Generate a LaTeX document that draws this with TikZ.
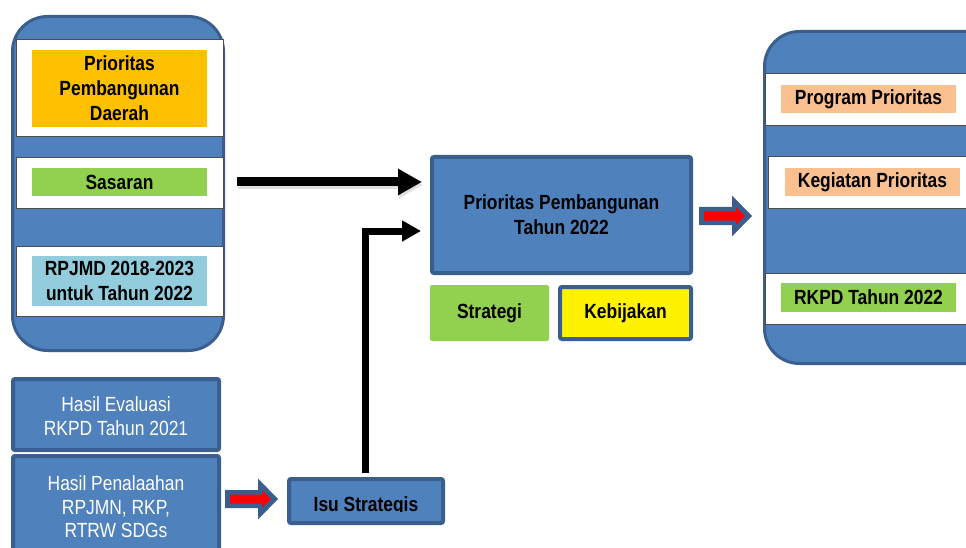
\documentclass[tikz,border=0pt]{standalone}
\usepackage{fontspec}
\setmainfont{Liberation Sans}[FakeStretch=0.85]
\usetikzlibrary{arrows.meta}
\definecolor{boxblue}{HTML}{4F81BD}
\definecolor{edgeblue}{HTML}{3A5F8E}
\definecolor{lorange}{HTML}{FFC000}
\definecolor{lpeach}{HTML}{FAC090}
\definecolor{lgreen}{HTML}{92D050}
\definecolor{lcyan}{HTML}{93CDDD}
\tikzset{
  container/.style={draw=edgeblue, fill=boxblue, line width=3pt, rounded corners=35pt, inner sep=0pt},
  whitebox/.style={draw=black!70, fill=white, line width=0.8pt, inner sep=0pt},
  label/.style={inner sep=0pt, align=center, font=\bfseries\fontsize{20.5}{25}\selectfont, text=black},
  bluebox/.style={draw=edgeblue, fill=boxblue, line width=4pt, rounded corners=2pt, inner sep=0pt},
  whitetext/.style={inner sep=0pt, align=center, text=white, font=\fontsize{20.5}{23.5}\selectfont},
  blackarrow/.style={draw=black, line width=9pt, -{Triangle[length=24pt,width=25pt]}},
  blackarrowthin/.style={draw=black, line width=7pt, -{Triangle[length=19pt,width=20pt]}},
  redarrow/.pic={
    \fill[edgeblue] (0,-9) -- (33,-9) -- (33,-20.5) -- (53,0) -- (33,20.5) -- (33,9) -- (0,9) -- cycle;
    \fill[red] (5,-4.5) -- (37,-4.5) -- (37,-8.5) -- (46,0) -- (37,8.5) -- (37,4.5) -- (5,4.5) -- cycle;
  }
}
\begin{document}
\begin{tikzpicture}[x=1pt,y=-1pt]
\useasboundingbox (0,0) rectangle (966,548);
\clip (0,0) rectangle (966,548);
\fill[white] (0,0) rectangle (966,548);

% left container
\node[container, minimum width=211pt, minimum height=334pt] (left) at (118,183.5) {};
\node[whitebox, minimum width=207pt, minimum height=97pt] (lw1) at (119.5,87.5) {};
\node[whitebox, minimum width=207pt, minimum height=51pt] (lw2) at (119.5,182.5) {};
\node[whitebox, minimum width=207pt, minimum height=70pt] (lw3) at (119.5,281) {};
\node[label, fill=lorange, minimum width=175pt, minimum height=77pt] (pdaerah) at (119.5,88.5) {Prioritas\\Pembangunan\\Daerah};
\node[label, fill=lgreen, minimum width=175pt, minimum height=28pt] (sasaran) at (119.5,182) {Sasaran};
\node[label, fill=lcyan, minimum width=175pt, minimum height=50pt] (rpjmd) at (119.5,281) {RPJMD 2018-2023\\untuk Tahun 2022};

% right container
\node[container, minimum width=240pt, minimum height=332pt] (right) at (884.5,197.5) {};
\node[whitebox, minimum width=240pt, minimum height=52pt] (rw1) at (885,99) {};
\node[whitebox, minimum width=240pt, minimum height=52pt] (rw2) at (888,182) {};
\node[whitebox, minimum width=240pt, minimum height=51pt] (rw3) at (885,298.5) {};
\node[label, fill=lpeach, minimum width=175pt, minimum height=28pt] (program) at (868.5,99) {Program Prioritas};
\node[label, fill=lpeach, minimum width=175pt, minimum height=28pt] (kegiatan) at (872.5,182) {Kegiatan Prioritas};
\node[label, fill=lgreen, minimum width=175pt, minimum height=29pt] (rkpd) at (868.5,297.5) {RKPD Tahun 2022};

% center
\node[bluebox, label, minimum width=259pt, minimum height=116pt] (main) at (561.5,215) {Prioritas Pembangunan\\Tahun 2022};
\node[label, fill=lgreen, rounded corners=2pt, minimum width=119pt, minimum height=56pt] (strategi) at (489.5,313) {Strategi};
\node[label, draw=edgeblue, line width=4pt, fill=yellow, rounded corners=2pt, minimum width=131pt, minimum height=52pt] (kebijakan) at (625.5,313) {\raisebox{1pt}{Kebijakan}};

% bottom left
\node[bluebox, minimum width=206pt, minimum height=71pt] (evalbox) at (116,414.5) {};
\node[whitetext] (eval) at (116,416) {Hasil Evaluasi\\RKPD Tahun 2021};
\node[bluebox, minimum width=206pt, minimum height=162pt] (telaahbox) at (116,537) {};
\node[whitetext] (telaah) at (116,507) {Hasil Penalaahan\\RPJMN, RKP,\\RTRW SDGs};

% isu strategis
\node[bluebox, minimum width=154pt, minimum height=44pt] (isu) at (366,501) {};
\begin{scope}
\clip (287,477) rectangle (445,511.5);
\node[label, anchor=base] (isutext) at (366,511.5) {Isu Strategis};
\end{scope}

% block arrows
\pic at (225,499) {redarrow};
\pic at (699,216) {redarrow};

% black connectors
\coordinate (s1) at (237,182);
\coordinate (e1) at (422,182);
\draw[black!12, line width=9pt, -{Triangle[length=24pt,width=25pt]}] ([shift={(1,3)}]s1) -- ([shift={(1,3)}]e1);
\draw[blackarrow] (s1) -- (e1);
\coordinate (s2) at (365,473);
\coordinate (e2) at (421,231);
\draw[blackarrowthin] (s2) |- (e2);
\end{tikzpicture}
\end{document}
